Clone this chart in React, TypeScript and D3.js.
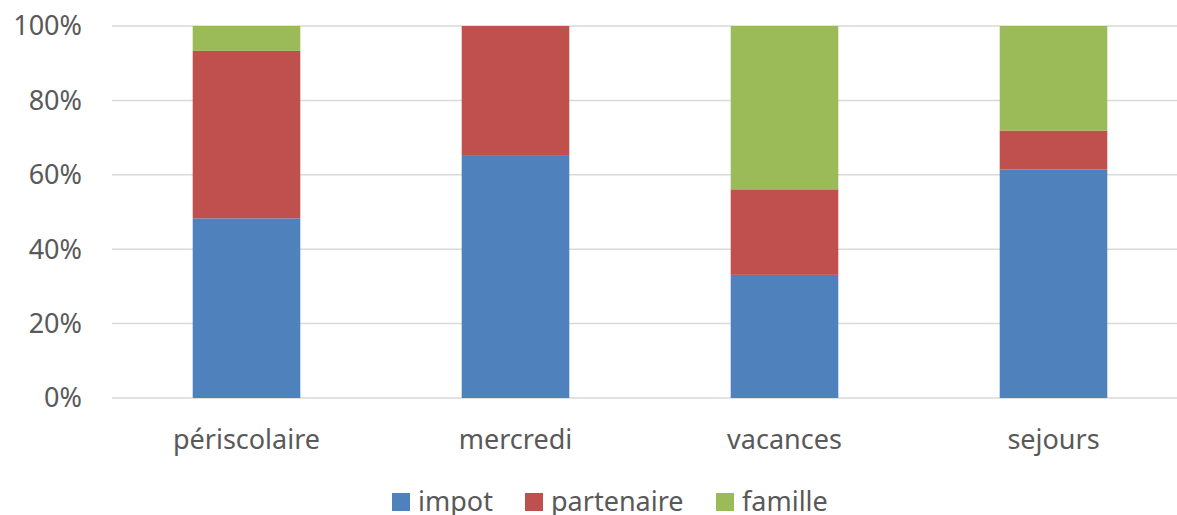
import React from "react";
import * as d3 from "d3";

const categories = ["périscolaire", "mercredi", "vacances", "sejours"];
const seriesNames = ["impot", "partenaire", "famille"];
const impot = [0.483, 0.653, 0.331, 0.614];
const partenaire = [0.45, 0.347, 0.23, 0.105];
const famille = [0.067, 0, 0.439, 0.281];
const yTicks = [0, 0.2, 0.4, 0.6, 0.8, 1];
const colors = ["#4F81BD", "#C0504D", "#9BBB59"];

const W = 1177;
const H = 515;
const FONT = "'Noto Sans', 'Open Sans', sans-serif";

const App: React.FC = () => {
	const rows = categories.map((c, i) => ({
		cat: c,
		impot: impot[i],
		partenaire: partenaire[i],
		famille: famille[i],
	}));
	const stacked = d3.stack<any>().keys(seriesNames)(rows);

	const x = d3
		.scaleBand()
		.domain(categories)
		.range([112, 1188])
		.paddingInner(0.6)
		.paddingOuter(0.3);
	const y = d3.scaleLinear().domain([0, 1]).range([398, 26]);

	const legendItems = [
		{name: "impot", x: 392},
		{name: "partenaire", x: 525},
		{name: "famille", x: 716},
	];

	return (
		<svg
			width={W}
			height={H}
			style={{position: "absolute", left: 0, top: 0, background: "#fff"}}
			fontFamily={FONT}
		>
			{/* Gridlines */}
			{yTicks.map((t) => (
				<line
					key={t}
					x1={112}
					x2={W}
					y1={y(t)}
					y2={y(t)}
					stroke="#d9d9d9"
					strokeWidth={1.5}
				/>
			))}
			{/* Y labels */}
			{yTicks.map((t) => (
				<text
					key={"l" + t}
					x={82}
					y={y(t)}
					dy="0.35em"
					textAnchor="end"
					fontSize={27}
					fill="#595959"
				>
					{d3.format(".0%")(t)}
				</text>
			))}
			{/* Bars */}
			{stacked.map((s, si) => (
				<g key={s.key} fill={colors[si]}>
					{s.map((d, i) =>
						d[1] - d[0] > 0 ? (
							<rect
								key={i}
								x={x(categories[i])}
								width={x.bandwidth()}
								y={y(d[1])}
								height={y(d[0]) - y(d[1])}
							/>
						) : null
					)}
				</g>
			))}
			{/* X labels */}
			{categories.map((c) => (
				<text
					key={c}
					x={(x(c) as number) + x.bandwidth() / 2}
					y={449}
					textAnchor="middle"
					fontSize={27}
					fill="#595959"
				>
					{c}
				</text>
			))}
			{/* Legend */}
			{legendItems.map((l, i) => (
				<g key={l.name}>
					<rect x={l.x} y={493} width={18} height={18} fill={colors[i]} />
					<text x={l.x + 26} y={511} fontSize={27} fill="#595959">
						{l.name}
					</text>
				</g>
			))}
		</svg>
	);
};

export default App;
